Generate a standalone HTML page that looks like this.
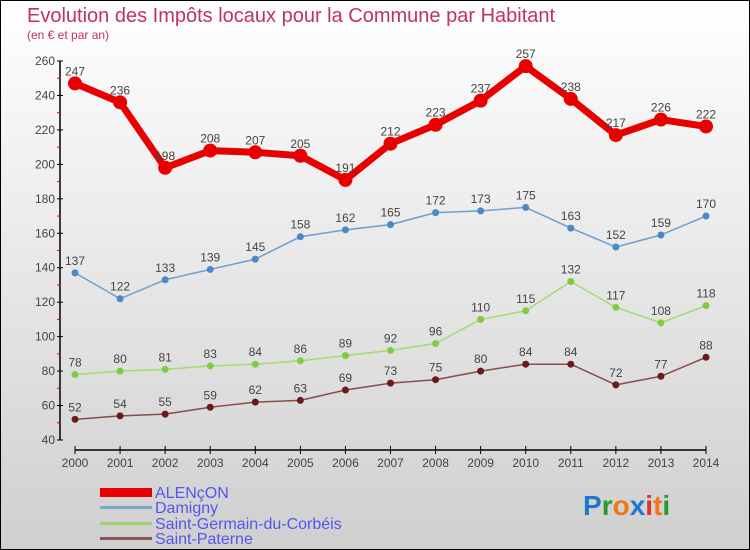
<!DOCTYPE html>
<html><head><meta charset="utf-8"><style>
body{margin:0;}
#c{width:750px;height:550px;position:relative;background:linear-gradient(#ffffff,#cfcfcf);border:1px solid #000;box-sizing:border-box;font-family:"Liberation Sans",sans-serif;overflow:hidden}
</style></head><body>
<div id="c">
<svg id="s" width="750" height="550" style="position:absolute;left:-1px;top:-1px">
<text x="27" y="22" font-size="20" fill="#c0306a">Evolution des Impôts locaux pour la Commune par Habitant</text>
<text x="27" y="39" font-size="12" fill="#c0306a">(en € et par an)</text>
<g id="axes"></g><g id="series"></g>
<g>
<rect x="100" y="488" width="52" height="9" fill="#e80000"/>
<text x="155" y="498" font-size="16" fill="#5555ee">ALENçON</text>
<rect x="100" y="506" width="52" height="3" fill="#7aa8cc"/>
<text x="155" y="513" font-size="16" fill="#5555ee">Damigny</text>
<rect x="100" y="522" width="52" height="3" fill="#9ed66a"/>
<text x="155" y="529" font-size="16" fill="#5555ee">Saint-Germain-du-Corbéis</text>
<rect x="100" y="537" width="52" height="3" fill="#8a5555"/>
<text x="155" y="544" font-size="16" fill="#5555ee">Saint-Paterne</text>
</g>
<text x="583" y="515" font-size="28" font-weight="bold"><tspan fill="#1e78d0">P</tspan><tspan fill="#2a9a2a">r</tspan><tspan fill="#f07818">o</tspan><tspan fill="#1e78d0">x</tspan><tspan fill="#e03030">i</tspan><tspan fill="#f07818">t</tspan><tspan fill="#2a9a2a">i</tspan></text>
</svg>
</div>
<script>
const years=[2000,2001,2002,2003,2004,2005,2006,2007,2008,2009,2010,2011,2012,2013,2014];
const alencon=[247,236,198,208,207,205,191,212,223,237,257,238,217,226,222];
const damigny=[137,122,133,139,145,158,162,165,172,173,175,163,152,159,170];
const stGermain=[78,80,81,83,84,86,89,92,96,110,115,132,117,108,118];
const stPaterne=[52,54,55,59,62,63,69,73,75,80,84,84,72,77,88];
const yTicks=[40,60,80,100,120,140,160,180,200,220,240,260];
const NS="http://www.w3.org/2000/svg";
const X=i=>75+i*(706-75)/(years.length-1);
const Y=v=>440-(v-40)*(440-61)/220;
function mk(p,t,a){const e=document.createElementNS(NS,t);for(const k in a)e.setAttribute(k,a[k]);p.appendChild(e);return e;}
const ax=document.getElementById('axes');
let l=mk(ax,'line',{x1:60,y1:Y(260),x2:60,y2:Y(40),stroke:'#000','stroke-width':1.5});


l=mk(ax,'line',{x1:75,y1:450,x2:706,y2:450,stroke:'#000','stroke-width':1.5});


yTicks.forEach((v,i)=>{
 mk(ax,'line',{x1:57,y1:Y(v),x2:63,y2:Y(v),stroke:'#000'});
 if(i<yTicks.length-1)mk(ax,'line',{x1:57,y1:Y(v+10),x2:60,y2:Y(v+10),stroke:'#e00'});
 const t=mk(ax,'text',{x:55,y:Y(v)+4,'font-size':12,fill:'#444','text-anchor':'end'});t.textContent=v;
 
 
});
years.forEach((y,i)=>{
 mk(ax,'line',{x1:X(i),y1:446,x2:X(i),y2:454,stroke:'#000'});
 const t=mk(ax,'text',{x:X(i),y:467,'font-size':12,fill:'#444','text-anchor':'middle'});t.textContent=y;
 
 
});
const sg=document.getElementById('series');
function series(vals,name,col,dot,w,r){
 const g=mk(sg,'g',{});
 
 
 const p=mk(g,'polyline',{points:vals.map((v,i)=>X(i)+','+Y(v)).join(' '),fill:'none',stroke:col,'stroke-width':w,'stroke-linejoin':'round'});
 
 
 vals.forEach((v,i)=>{
  const c=mk(g,'circle',{cx:X(i),cy:Y(v),r:r,fill:dot});
  
  
  const t=mk(g,'text',{x:X(i),y:Y(v)-8,'font-size':12,fill:'#444','text-anchor':'middle'});t.textContent=v;
  
  
 });
}
series(stPaterne,'saint-paterne','#8a4a4a','#6a1a1a',1.5,3.5);
series(stGermain,'saint-germain','#a0dc70','#80cc40',1.5,3.5);
series(damigny,'damigny','#6aa0d0','#4a88c8',1.5,3.5);
series(alencon,'alencon','#e80000','#e80000',7,7);
</script>
</body></html>
